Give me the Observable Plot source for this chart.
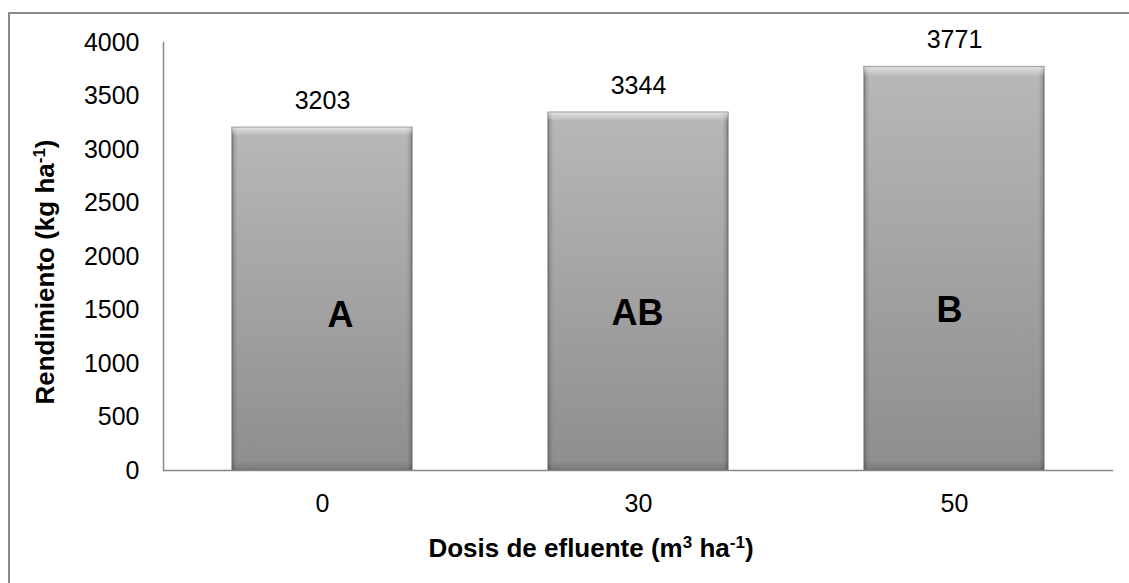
<!DOCTYPE html>
<html>
<head>
<meta charset="utf-8">
<script src="https://cdn.jsdelivr.net/npm/d3@7"></script>
<script src="https://cdn.jsdelivr.net/npm/@observablehq/plot@0.6"></script>
<style>
  html, body { margin: 0; padding: 0; background: #fff; }
  #chart { width: 1129px; height: 583px; overflow: hidden; }
</style>
</head>
<body>
<div id="chart"></div>
<script>
// ---- data ----
const doses = ["0", "30", "50"];
const yields = [3203, 3344, 3771];
const letters = ["A", "AB", "B"];
const yTicks = [0, 500, 1000, 1500, 2000, 2500, 3000, 3500, 4000];
const xTitle = ["Dosis de efluente (m", "3", " ha", "-1", ")"];
const yTitle = ["Rendimiento (kg ha", "-1", ")"];

const data = doses.map((d, i) => ({dose: d, value: yields[i], letter: letters[i]}));

// letter placement inside bars (as in the original)
const letterY = [1450, 1472, 1495];
const letterDx = [18, -1, -5];

const font = "'Liberation Sans', Arial, Helvetica, sans-serif";

const letterMarks = data.map((d, i) =>
  Plot.text([d], {x: "dose", y: () => letterY[i], dx: letterDx[i], text: "letter",
                  fontSize: 36, fontWeight: "bold", fill: "#000"}));

const svg = Plot.plot({
  width: 1129,
  height: 583,
  marginLeft: 163,
  marginRight: 16,
  marginTop: 42,
  marginBottom: 113,
  style: {fontFamily: font, fontSize: "25px", color: "#000", background: "transparent", overflow: "visible"},
  x: {domain: doses, paddingInner: 0.43, paddingOuter: 0.215, label: null},
  y: {domain: [0, 4000], label: null},
  marks: [
    Plot.barY(data, {x: "dose", y: "value", fill: "url(#barV)", stroke: "#7f7f7f", strokeWidth: 1.2}),
    Plot.barY(data, {x: "dose", y: "value", fill: "url(#barH)"}),
    Plot.barY(data, {x: "dose", y: "value", fill: "url(#barT)"}),
    Plot.axisY({ticks: yTicks, tickSize: 0, tickPadding: 24, fontSize: 25, label: null, tickFormat: d => String(d)}),
    Plot.axisX({tickSize: 0, tickPadding: 24, fontSize: 25, label: null}),
    Plot.ruleY([0], {stroke: "#888", strokeWidth: 1.5}),
    Plot.frame({anchor: "left", stroke: "#888", strokeWidth: 1.5}),
    Plot.text(data, {x: "dose", y: "value", text: d => String(d.value), dy: -27, fontSize: 25, fill: "#000"}),
    ...letterMarks
  ]
});

const root = d3.select(svg);

// gradients
const defs = root.insert("defs", ":first-child");
const gv = defs.append("linearGradient").attr("id", "barV").attr("x1", 0).attr("y1", 0).attr("x2", 0).attr("y2", 1);
gv.append("stop").attr("offset", "0%").attr("stop-color", "#bcbcbc");
gv.append("stop").attr("offset", "100%").attr("stop-color", "#909090");
const gh = defs.append("linearGradient").attr("id", "barH").attr("x1", 0).attr("y1", 0).attr("x2", 1).attr("y2", 0);
gh.append("stop").attr("offset", "0%").attr("stop-color", "#444").attr("stop-opacity", 0.4);
gh.append("stop").attr("offset", "3%").attr("stop-color", "#555").attr("stop-opacity", 0.04);
gh.append("stop").attr("offset", "97%").attr("stop-color", "#555").attr("stop-opacity", 0.04);
gh.append("stop").attr("offset", "100%").attr("stop-color", "#444").attr("stop-opacity", 0.4);
const gt = defs.append("linearGradient").attr("id", "barT").attr("x1", 0).attr("y1", 0).attr("x2", 0).attr("y2", 1);
gt.append("stop").attr("offset", "0%").attr("stop-color", "#fff").attr("stop-opacity", 0.6);
gt.append("stop").attr("offset", "2.5%").attr("stop-color", "#fff").attr("stop-opacity", 0);
gt.append("stop").attr("offset", "97.5%").attr("stop-color", "#000").attr("stop-opacity", 0);
gt.append("stop").attr("offset", "100%").attr("stop-color", "#000").attr("stop-opacity", 0.15);

// outer chart border (top & left visible)
root.insert("rect", "defs + *")
  .attr("x", 9).attr("y", 13).attr("width", 1300).attr("height", 800)
  .attr("fill", "none").attr("stroke", "#8a8a8a").attr("stroke-width", 2);

// axis titles with superscripts
const xt = root.append("text")
  .attr("x", 591).attr("y", 557)
  .attr("text-anchor", "middle")
  .attr("font-family", font).attr("font-size", 26).attr("font-weight", "bold").attr("fill", "#000");
xt.append("tspan").text(xTitle[0]);
xt.append("tspan").attr("font-size", 17).attr("dy", -9).text(xTitle[1]);
xt.append("tspan").attr("dy", 9).text(xTitle[2]);
xt.append("tspan").attr("font-size", 17).attr("dy", -9).text(xTitle[3]);
xt.append("tspan").attr("dy", 9).text(xTitle[4]);

const yt = root.append("text")
  .attr("transform", "translate(54,272) rotate(-90)")
  .attr("text-anchor", "middle")
  .attr("font-family", font).attr("font-size", 26).attr("font-weight", "bold").attr("fill", "#000");
yt.append("tspan").text(yTitle[0]);
yt.append("tspan").attr("font-size", 17).attr("dy", -9).text(yTitle[1]);
yt.append("tspan").attr("dy", 9).text(yTitle[2]);

document.getElementById("chart").appendChild(svg);
</script>
</body>
</html>
